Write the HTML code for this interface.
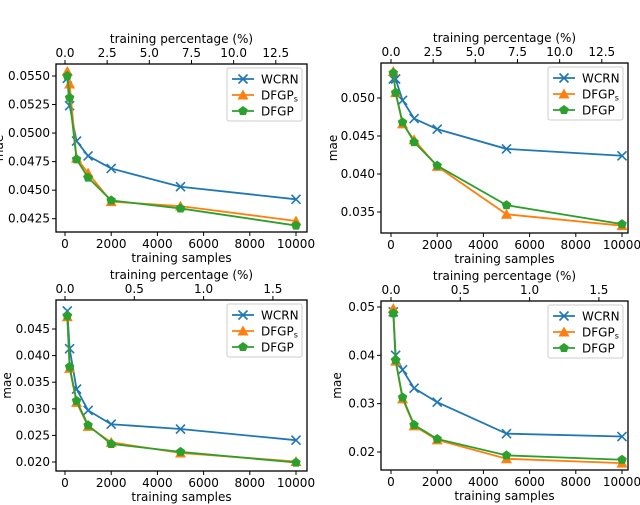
<!DOCTYPE html>
<html><head><meta charset="utf-8"><style>
html,body{margin:0;padding:0;background:#fff}
svg{display:block;font-family:"DejaVu Sans","Liberation Sans",sans-serif}
</style></head><body>
<svg id="fig" width="640" height="505" viewBox="0 0 640 505"></svg>
<script>
const samples=[100,200,500,1000,2000,5000,10000];
const seriesNames=["WCRN","DFGPs","DFGP"];
const tlWCRN=[0.0548,0.0524,0.0493,0.0480,0.0469,0.0453,0.0442];
const tlDFGPs=[0.0554,0.0543,0.0478,0.0465,0.0440,0.0436,0.0423];
const tlDFGP=[0.0550,0.0531,0.0477,0.0461,0.0441,0.0434,0.0419];
const trWCRN=[0.0525,0.0525,0.0497,0.0473,0.0459,0.0433,0.0424];
const trDFGPs=[0.0535,0.0507,0.0466,0.0445,0.0410,0.0347,0.0332];
const trDFGP=[0.0533,0.0507,0.0468,0.0442,0.0411,0.0359,0.0334];
const blWCRN=[0.0484,0.0413,0.0337,0.0297,0.0271,0.0262,0.0241];
const blDFGPs=[0.0473,0.0376,0.0312,0.0267,0.0237,0.0217,0.0201];
const blDFGP=[0.0475,0.0379,0.0315,0.0269,0.0234,0.0219,0.0199];
const brWCRN=[0.0490,0.0400,0.0370,0.0332,0.0303,0.0238,0.0232];
const brDFGPs=[0.0497,0.0388,0.0310,0.0254,0.0225,0.0186,0.0177];
const brDFGP=[0.0487,0.0390,0.0313,0.0256,0.0227,0.0193,0.0184];
const xTicks=[0,2000,4000,6000,8000,10000];
const topTicksA=["0.0","2.5","5.0","7.5","10.0","12.5"];
const topTicksB=["0.0","0.5","1.0","1.5"];
const yTicksTL=["0.0550","0.0525","0.0500","0.0475","0.0450","0.0425"];
const yTicksTR=["0.050","0.045","0.040","0.035"];
const yTicksBL=["0.045","0.040","0.035","0.030","0.025","0.020"];
const yTicksBR=["0.05","0.04","0.03","0.02"];

const NS="http://www.w3.org/2000/svg";
const svg=document.getElementById('fig');
function mk(tag,at,parent){const e=document.createElementNS(NS,tag);for(const k in at)e.setAttribute(k,at[k]);(parent||svg).appendChild(e);return e;}
function txt(s,at,parent){const e=mk('text',at,parent);e.textContent=s;return e;}
const colors=["#1f77b4","#ff7f0e","#2ca02c"];
const FS=12;

function panel(p){
  const g=mk('g',{});
  
  
  const X=v=>p.x0+(v/10000)*(p.x1-p.x0);
  const Y=v=>p.yA+(v-p.vA)/(p.vB-p.vA)*(p.yB-p.yA);
  const fr=mk('rect',{x:p.L,y:p.T,width:p.R-p.L,height:p.B-p.T,fill:'none',stroke:'#000','stroke-width':1.3},g);
  
  xTicks.forEach(t=>{const x=X(t);mk('line',{x1:x,x2:x,y1:p.B,y2:p.B+4,stroke:'#000'},g);
    const l=txt(String(t),{x:x,y:p.B+16,'font-size':FS,'text-anchor':'middle'},g);
    });
  const xt=txt('training samples',{x:(p.L+p.R)/2,y:p.B+30,'font-size':FS,'text-anchor':'middle'},g);
  
  p.top.forEach(s=>{const x=X(parseFloat(s)*p.pct);mk('line',{x1:x,x2:x,y1:p.T,y2:p.T-4,stroke:'#000'},g);
    const l=txt(s,{x:x,y:p.T-7,'font-size':FS,'text-anchor':'middle'},g);
    });
  const tt=txt('training percentage (%)',{x:(p.L+p.R)/2,y:p.T-21,'font-size':FS,'text-anchor':'middle'},g);
  
  p.yt.forEach(s=>{const y=Y(parseFloat(s));mk('line',{x1:p.L,x2:p.L-4,y1:y,y2:y,stroke:'#000'},g);
    const l=txt(s,{x:p.L-6,y:y+4,'font-size':FS,'text-anchor':'end'},g);
    });
  const ya=txt('mae',{x:0,y:0,'font-size':FS,'text-anchor':'middle',transform:`translate(${p.yl},${(p.T+p.B)/2}) rotate(-90)`},g);
  
  p.data.forEach((d,i)=>{
    const c=colors[i];
    const pl=mk('polyline',{points:d.map((v,j)=>X(samples[j])+','+Y(v)).join(' '),fill:'none',stroke:c,'stroke-width':1.8},g);
    
    d.forEach((v,j)=>marker(g,i,X(samples[j]),Y(v),'point-'+seriesNames[i].toLowerCase()));
  });
  const lx=p.R-80,ly=p.T+4;
  const lg=mk('g',{},g);
  mk('rect',{x:lx,y:ly,width:75,height:53,fill:'#fff',stroke:'#ccc',rx:2},lg);
  seriesNames.forEach((n,i)=>{const y=ly+11+i*16;
    mk('line',{x1:lx+5,x2:lx+27,y1:y,y2:y,stroke:colors[i],'stroke-width':1.8},lg);
    marker(lg,i,lx+16,y,'legend-marker');
    const t=txt('',{x:lx+34,y:y+4.5,'font-size':FS},lg);
    if(n==="DFGPs"){t.textContent='DFGP';const s=mk('tspan',{'font-size':8,dy:2},t);s.textContent='s';}else t.textContent=n;
    
  });
}
function marker(g,i,x,y,name){
  let m;const c=colors[i];
  if(i===0) m=mk('path',{d:`M${x-4.5},${y-4.5}L${x+4.5},${y+4.5}M${x-4.5},${y+4.5}L${x+4.5},${y-4.5}`,stroke:c,'stroke-width':1.6,fill:'none'},g);
  else if(i===1) m=mk('polygon',{points:`${x},${y-5.5} ${x+5.5},${y+4.5} ${x-5.5},${y+4.5}`,fill:c},g);
  else {const pts=[];for(let k=0;k<5;k++){const a=-Math.PI/2+k*2*Math.PI/5;pts.push((x+5*Math.cos(a))+','+(y+5*Math.sin(a)));}m=mk('polygon',{points:pts.join(' '),fill:c},g);}
  
}
panel({name:'panel-top-left',L:56,R:307,T:64,B:232,x0:65,x1:296,yA:76,vA:0.055,yB:218.7,vB:0.0425,top:topTicksA,pct:730,yt:yTicksTL,yl:3,data:[tlWCRN,tlDFGPs,tlDFGP]});
panel({name:'panel-top-right',L:381,R:628,T:63,B:233,x0:391,x1:622,yA:98,vA:0.050,yB:212,vB:0.035,top:topTicksA,pct:730,yt:yTicksTR,yl:337,data:[trWCRN,trDFGPs,trDFGP]});
panel({name:'panel-bottom-left',L:56,R:307,T:300,B:471,x0:65,x1:296,yA:329,vA:0.045,yB:462,vB:0.020,top:topTicksB,pct:6000,yt:yTicksBL,yl:11,data:[blWCRN,blDFGPs,blDFGP]});
panel({name:'panel-bottom-right',L:381,R:628,T:301,B:470,x0:391,x1:622,yA:307,vA:0.05,yB:452,vB:0.02,top:topTicksB,pct:6000,yt:yTicksBR,yl:341,data:[brWCRN,brDFGPs,brDFGP]});
</script>
</body></html>
